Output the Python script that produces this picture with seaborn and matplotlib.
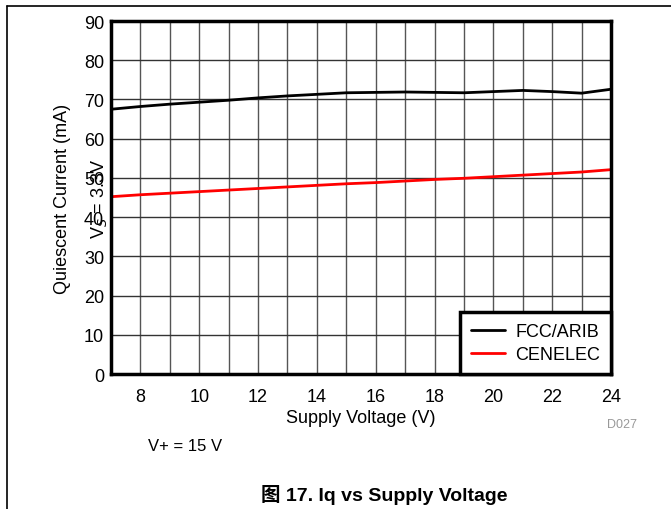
import seaborn as sns
import pandas as pd
from matplotlib import pyplot as plt
from matplotlib.lines import Line2D

# Supply voltage (V)
voltage = [7, 8, 9, 10, 11, 12, 13, 14, 15, 16, 17, 18, 19, 20, 21, 22, 23, 24]
# Quiescent current (mA)
fcc_arib = [67.5, 68.2, 68.8, 69.3, 69.8, 70.4, 70.9, 71.3, 71.7, 71.8, 71.9, 71.8, 71.7, 72.0, 72.3, 72.0, 71.6, 72.6]
cenelec = [45.2, 45.7, 46.1, 46.5, 46.9, 47.3, 47.7, 48.1, 48.5, 48.8, 49.2, 49.6, 49.9, 50.3, 50.7, 51.1, 51.5, 52.1]
series_names = ['FCC/ARIB', 'CENELEC']
x_ticks = [8, 10, 12, 14, 16, 18, 20, 22, 24]
y_ticks = [0, 10, 20, 30, 40, 50, 60, 70, 80, 90]

df = pd.DataFrame({
    'Voltage': voltage * 2,
    'Current': fcc_arib + cenelec,
    'Mode': [series_names[0]] * len(voltage) + [series_names[1]] * len(voltage),
})

sns.set_theme(style="white")
plt.rcParams['font.family'] = ['Liberation Sans', 'Noto Sans CJK SC', 'DejaVu Sans']
plt.rcParams['text.color'] = 'black'
plt.rcParams['axes.labelcolor'] = 'black'

fig = plt.figure(figsize=(6.71, 5.10), dpi=100)
ax = fig.add_axes([111 / 671, 1 - 375 / 510, 500 / 671, 353 / 510])

sns.lineplot(data=df, x='Voltage', y='Current', hue='Mode',
             palette={'FCC/ARIB': 'black', 'CENELEC': '#ff0000'},
             linewidth=2, ax=ax)

ax.set_xlim(7, 24)
ax.set_ylim(0, 90)
ax.set_xticks(x_ticks)
ax.set_yticks(y_ticks)
ax.set_xticks(voltage, minor=True)
ax.grid(True, which='both', axis='x', color='#555555', linewidth=1)
ax.grid(True, which='major', axis='y', color='#333333', linewidth=1)
ax.tick_params(axis='both', which='both', length=0, labelsize=13, colors='black')
ax.tick_params(axis='x', pad=10)
ax.tick_params(axis='y', pad=5)
ax.set_axisbelow(True)
for s in ax.spines.values():
    s.set_visible(True)
    s.set_color('black')
    s.set_linewidth(2.5)

ax.set_xlabel('Supply Voltage (V)', fontsize=13, labelpad=3)
ax.set_ylabel('Quiescent Current (mA)', fontsize=13, labelpad=9)

leg = ax.legend(loc='lower right', fontsize=13, frameon=True, fancybox=False,
                borderaxespad=0, handlelength=1.9, handletextpad=0.55,
                borderpad=0.6, labelspacing=0.35)
leg.get_frame().set_edgecolor('black')
leg.get_frame().set_linewidth(2.5)
leg.get_frame().set_alpha(1)

# stray condition label overlapping the y ticks, as in the source figure
fig.text(99 / 671, 1 - 199 / 510, 'V$_S$ = 3.3V', rotation=90, fontsize=13,
         ha='center', va='center')
fig.text(622 / 671, 1 - 425 / 510, 'D027', fontsize=9, color='#999999',
         ha='center', va='center')
fig.text(148 / 671, 1 - 447 / 510, 'V+ = 15 V', fontsize=12, ha='left', va='center')
fig.text(384 / 671, 1 - 495 / 510, '图 17. Iq vs Supply Voltage', fontsize=14,
         fontweight='bold', ha='center', va='center')

# page frame lines
fig.add_artist(Line2D([7 / 671, 1], [1 - 7 / 510, 1 - 7 / 510], color='black', linewidth=1.2))
fig.add_artist(Line2D([7 / 671, 7 / 671], [0, 1 - 7 / 510], color='black', linewidth=1.2))

fig.savefig('out.png', dpi=100)
plt.close(fig)
